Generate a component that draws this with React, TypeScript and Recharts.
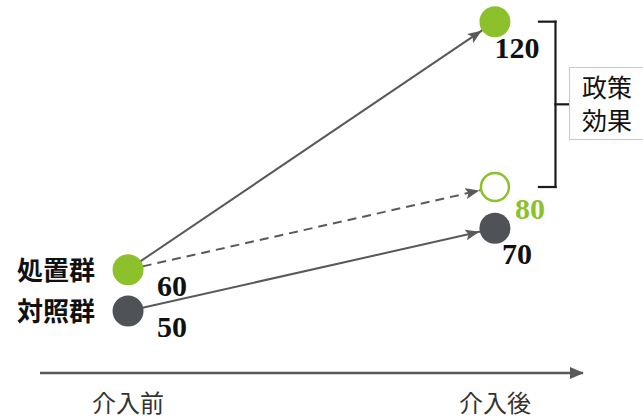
import { ComposedChart, Line, Scatter, XAxis, YAxis, ReferenceLine } from "recharts";

// 介入前 / 介入後 and the two groups (difference-in-differences sketch)
const PHASES = ["介入前", "介入後"];
const GROUPS = ["処置群", "対照群"];
const TREATED = [60, 120];
const CONTROL = [50, 70];
const COUNTERFACTUAL = [60, 80];
const EFFECT_LABEL = ["政策", "効果"];

const GREEN = "#8cc12b";
const DARK = "#4f5257";
const LINE = "#595959";

const toPoints = (values: number[], group: string) =>
  values.map((y, x) => ({ x, y, group }));

const treatedPts = toPoints(TREATED, GROUPS[0]);
const controlPts = toPoints(CONTROL, GROUPS[1]);
const cfPts = toPoints(COUNTERFACTUAL, "");

const serifNum = { fontFamily: "'Liberation Serif', serif", fontWeight: 700, fontSize: 30 };
const cjk = "'Noto Sans CJK JP', sans-serif";

function makeDot(color: string, hollow: boolean) {
  return (props: any) => {
    const { cx, cy, payload } = props;
    const before = payload.x === 0;
    // hollow (counterfactual) label sits a bit further right so it clears the 70 dot
    const lx = before ? cx + 44 : hollow ? cx + 35 : cx + 22;
    const ly = before ? cy + 26 : hollow ? cy + 32 : cy + 36;
    return (
      <g>
        <circle
          cx={cx}
          cy={cy}
          r={hollow ? 14 : 15.5}
          fill={hollow ? "#fff" : color}
          stroke={hollow ? color : "none"}
          strokeWidth={hollow ? 2.5 : 0}
        />
        <text x={lx} y={ly} textAnchor="middle" fill={hollow ? color : "#111"} style={serifNum}>
          {payload.y}
        </text>
        {before && payload.group ? (
          <text
            x={cx - 33}
            y={cy + 10}
            textAnchor="end"
            fill="#111"
            style={{ fontFamily: cjk, fontSize: 26, fontWeight: 700 }}
          >
            {payload.group}
          </text>
        ) : null}
      </g>
    );
  };
}

const PhaseTick = (props: any) => {
  const { x, y, payload } = props;
  return (
    <text x={x} y={y + 31} textAnchor="middle" fill="#333" style={{ fontFamily: cjk, fontSize: 24 }}>
      {PHASES[payload.value]}
    </text>
  );
};

const bracket = { stroke: "#1a1a1a", strokeWidth: 2.2, strokeLinecap: "square" as const };

export default function App() {
  return (
    <div style={{ position: "absolute", left: 0, top: 0, width: 643, height: 418, background: "#fff", overflow: "hidden" }}>
      <svg width={0} height={0} style={{ position: "absolute" }}>
        <defs>
          <marker id="dotArrow" markerUnits="userSpaceOnUse" markerWidth={14} markerHeight={11} viewBox="0 0 14 11" refX={30} refY={5.5} orient="auto">
            <path d="M0,0 L14,5.5 L0,11 L3,5.5 Z" fill={LINE} />
          </marker>
          <marker id="axisArrow" markerUnits="userSpaceOnUse" markerWidth={14} markerHeight={12} viewBox="0 0 14 12" refX={13} refY={6} orient="auto">
            <path d="M0,0 L14,6 L0,12 Z" fill={LINE} />
          </marker>
        </defs>
      </svg>
      <ComposedChart width={643} height={418} margin={{ top: 1, right: 60, bottom: 0, left: 40 }}>
        <XAxis
          type="number"
          dataKey="x"
          domain={[-0.24, 1.24]}
          ticks={[0, 1]}
          height={45}
          tickLine={false}
          tick={<PhaseTick />}
          axisLine={{ stroke: LINE, strokeWidth: 2.5, markerEnd: "url(#axisArrow)" } as any}
        />
        <YAxis type="number" dataKey="y" domain={[35, 125]} hide />
        <ReferenceLine segment={[{ x: 1.12, y: 120 }, { x: 1.165, y: 120 }]} {...bracket} />
        <ReferenceLine segment={[{ x: 1.165, y: 120 }, { x: 1.165, y: 80 }]} {...bracket} />
        <ReferenceLine segment={[{ x: 1.12, y: 80 }, { x: 1.165, y: 80 }]} {...bracket} />
        <ReferenceLine segment={[{ x: 1.165, y: 100 }, { x: 1.2, y: 100 }]} {...bracket} />
        <Line data={cfPts} dataKey="y" stroke={LINE} strokeWidth={2} strokeDasharray="9 6" dot={false} activeDot={false} markerEnd="url(#dotArrow)" isAnimationActive={false} />
        <Line data={treatedPts} dataKey="y" stroke={LINE} strokeWidth={2} dot={false} activeDot={false} markerEnd="url(#dotArrow)" isAnimationActive={false} />
        <Line data={controlPts} dataKey="y" stroke={LINE} strokeWidth={2} dot={false} activeDot={false} markerEnd="url(#dotArrow)" isAnimationActive={false} />
        <Scatter data={cfPts.slice(1)} dataKey="y" shape={makeDot(GREEN, true)} isAnimationActive={false} />
        <Scatter data={treatedPts} dataKey="y" shape={makeDot(GREEN, false)} isAnimationActive={false} />
        <Scatter data={controlPts} dataKey="y" shape={makeDot(DARK, false)} isAnimationActive={false} />
      </ComposedChart>
      <div
        style={{
          position: "absolute",
          left: 569,
          top: 67,
          width: 90,
          height: 73,
          border: "1px solid #c8c8c8",
          boxSizing: "border-box",
          paddingLeft: 12,
          paddingTop: 2,
          fontFamily: cjk,
          fontSize: 25,
          lineHeight: "33px",
          color: "#111",
          background: "#fff",
        }}
      >
        {EFFECT_LABEL.map((t) => (
          <div key={t}>{t}</div>
        ))}
      </div>
    </div>
  );
}
